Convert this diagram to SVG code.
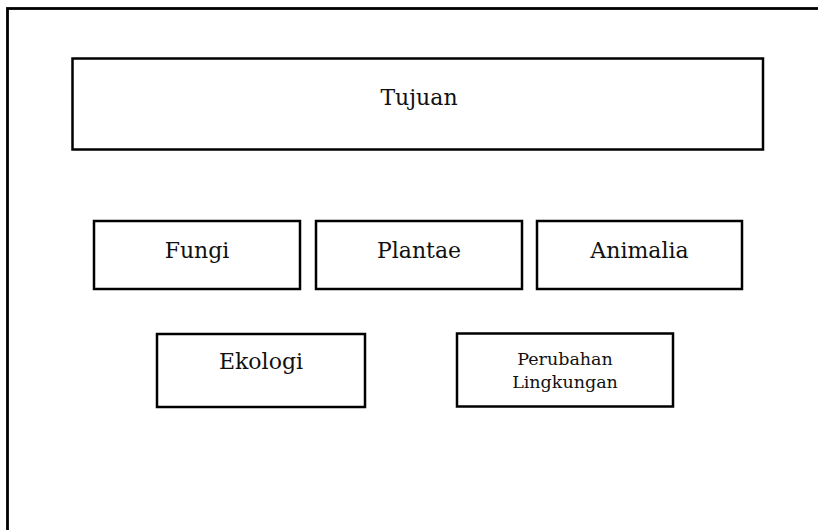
<svg xmlns="http://www.w3.org/2000/svg" width="818" height="530" viewBox="0 0 818 530">
<style>
.box{fill:#fff;stroke:#000;stroke-width:2.5}
.t{font-family:"DejaVu Serif","Liberation Serif",serif;font-size:22px;fill:#111;text-anchor:middle}
.s{font-family:"DejaVu Serif","Liberation Serif",serif;font-size:17.5px;fill:#111;text-anchor:middle}
</style>
<rect x="0" y="0" width="818" height="530" fill="#fff"/>
<g id="frame"><rect x="7.5" y="8.5" width="900" height="600" fill="none" stroke="#000" stroke-width="2.8"/></g>
<g id="tujuan"><rect class="box" x="72.5" y="58.5" width="690.5" height="91"/><text class="t" x="419" y="105">Tujuan</text></g>
<g id="fungi"><rect class="box" x="94" y="221" width="206" height="68"/><text class="t" x="197" y="258">Fungi</text></g>
<g id="plantae"><rect class="box" x="316" y="221" width="206" height="68"/><text class="t" x="419" y="258">Plantae</text></g>
<g id="animalia"><rect class="box" x="537" y="221" width="205" height="68"/><text class="t" x="639.5" y="258">Animalia</text></g>
<g id="ekologi"><rect class="box" x="157" y="334" width="208" height="73"/><text class="t" x="261" y="369">Ekologi</text></g>
<g id="perubahan"><rect class="box" x="457" y="333.5" width="216" height="73"/><text class="s" x="565" y="365">Perubahan</text><text class="s" x="565" y="388">Lingkungan</text></g>
<g id="connectors"></g>
</svg>
